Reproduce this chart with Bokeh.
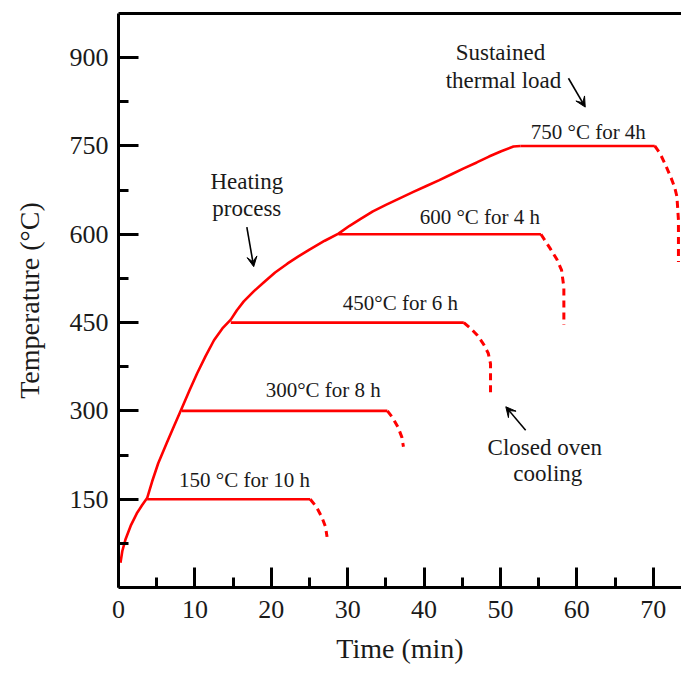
from bokeh.plotting import figure
from bokeh.models import Range1d, FixedTicker, LinearAxis, Arrow, VeeHead
from bokeh.core.properties import value
from bokeh.embed import file_html
from bokeh.resources import INLINE

# ---- data ----
heat_x = [0.26, 0.5, 0.9, 1.6, 2.4, 3.1, 3.75, 4.4, 5.2, 6.3, 7.3, 8.3, 9.3, 10.3, 11.4, 12.5,
          13.6, 14.7, 15.5, 16.4, 17.7, 19.0, 20.5, 22.1, 23.5, 25.0, 27.0, 28.8, 30.2, 31.7,
          33.3, 35.0, 36.8, 38.6, 40.3, 42.0, 43.6, 45.2, 46.9, 48.5, 50.1, 51.7, 52.6]
heat_y = [42, 62, 81, 105, 126, 140, 152, 180, 211, 245, 275, 305, 335, 364, 393, 420,
          440, 455, 471, 486, 503, 518, 535, 550, 562, 574, 589, 601, 614, 626,
          639, 650, 661, 672, 682, 692, 702, 712, 722, 732, 741, 749, 750]

plateau_levels = [150, 300, 450, 600, 750]
plateau_start = [3.75, 8.3, 14.7, 28.8, 52.6]
plateau_end = [25.1, 35.2, 45.2, 55.3, 70.2]

cool150_x = [25.1, 25.9, 26.6, 27.1, 27.3]
cool150_y = [150, 137, 120, 103, 86]
cool300_x = [35.2, 35.9, 36.6, 37.1, 37.3]
cool300_y = [300, 288, 272, 255, 239]
cool450_x = [45.2, 46.1, 47.0, 47.8, 48.4, 48.7, 48.7]
cool450_y = [450, 440, 428, 413, 398, 380, 323]
cool600_x = [55.3, 56.5, 57.4, 58.0, 58.3, 58.3]
cool600_y = [600, 576, 557, 539, 510, 446]
cool750_x = [70.2, 70.9, 71.6, 72.3, 72.8, 73.1, 73.3, 73.3]
cool750_y = [750, 737, 718, 697, 680, 664, 624, 553]

x_ticks = [0, 10, 20, 30, 40, 50, 60, 70]
x_minor = [5, 15, 25, 35, 45, 55, 65]
y_ticks = [150, 300, 450, 600, 750, 900]
y_minor = [75, 225, 375, 525, 675, 825]

plateau_labels = ["150 \u00b0C for 10 h", "300\u00b0C for 8 h", "450\u00b0C for 6 h",
                  "600 \u00b0C for 4 h", "750 \u00b0C for 4h"]
plateau_label_x = [16.5, 26.8, 36.9, 47.3, 61.5]
plateau_label_y = [182, 335, 483, 629, 773]

note_texts = ["Sustained", "thermal load", "Heating", "process", "Closed oven", "cooling"]
note_x = [50.0, 50.4, 16.8, 16.8, 55.8, 56.2]
note_y = [909, 862, 689, 644, 238, 194]

arrows = [(58.9, 865, 61.1, 816), (16.8, 612, 17.7, 545), (53.3, 267, 50.7, 307)]

RED = "#ff0000"
FONT = "Liberation Serif"
TXT = "#1a1a1a"

p = figure(width=681, height=675, output_backend="svg", toolbar_location=None,
           x_range=Range1d(0, 73.7), y_range=Range1d(0, 975),
           min_border_left=118, min_border_right=0, min_border_top=13, min_border_bottom=88)
p.outline_line_color = None
p.grid.visible = False
p.background_fill_color = "white"
p.border_fill_color = "white"

# curves
p.line(heat_x, heat_y, line_color=RED, line_width=2.6, line_join="round")
for lv, s, e in zip(plateau_levels, plateau_start, plateau_end):
    p.line([s, e], [lv, lv], line_color=RED, line_width=2.6)
for cx, cy in [(cool150_x, cool150_y), (cool300_x, cool300_y), (cool450_x, cool450_y),
               (cool600_x, cool600_y), (cool750_x, cool750_y)]:
    p.line(cx, cy, line_color=RED, line_width=3, line_dash="7 5")

# texts
p.text(plateau_label_x, plateau_label_y, text=plateau_labels, text_font=value(FONT),
       text_font_size="21px", text_align="center", text_baseline="middle", text_color=TXT)
p.text(note_x, note_y, text=note_texts, text_font=value(FONT),
       text_font_size="23px", text_align="center", text_baseline="middle", text_color=TXT)

for xs, ys, xe, ye in arrows:
    p.add_layout(Arrow(end=VeeHead(size=10, fill_color="black", line_color="black"),
                       x_start=xs, y_start=ys, x_end=xe, y_end=ye,
                       line_color="black", line_width=1.6))

# axes
for ax in (p.xaxis[0], p.yaxis[0]):
    ax.axis_line_width = 3
    ax.axis_line_color = "black"
    ax.major_tick_in = 20
    ax.major_tick_out = 0
    ax.minor_tick_in = 10
    ax.minor_tick_out = 0
    ax.major_tick_line_width = 3
    ax.minor_tick_line_width = 3
    ax.major_label_text_font = FONT
    ax.major_label_text_font_size = "26px"
    ax.major_label_text_color = TXT
    ax.axis_label_text_font = FONT
    ax.axis_label_text_font_size = "28px"
    ax.axis_label_text_font_style = "normal"
    ax.axis_label_text_color = TXT

p.xaxis[0].ticker = FixedTicker(ticks=x_ticks, minor_ticks=x_minor)
p.yaxis[0].ticker = FixedTicker(ticks=y_ticks, minor_ticks=y_minor)
p.xaxis[0].axis_label = "Time (min)"
p.yaxis[0].axis_label = "Temperature (\u00b0C)"
p.xaxis[0].major_label_standoff = 13
p.yaxis[0].major_label_standoff = 10
p.xaxis[0].axis_label_standoff = 12
p.yaxis[0].axis_label_standoff = 22

top = LinearAxis(ticker=FixedTicker(ticks=[]), major_label_text_font_size="0px",
                 axis_line_width=3, axis_line_color="black",
                 major_tick_line_color=None, minor_tick_line_color=None)
p.add_layout(top, "above")

open("out.html", "w").write(file_html(p, INLINE))
